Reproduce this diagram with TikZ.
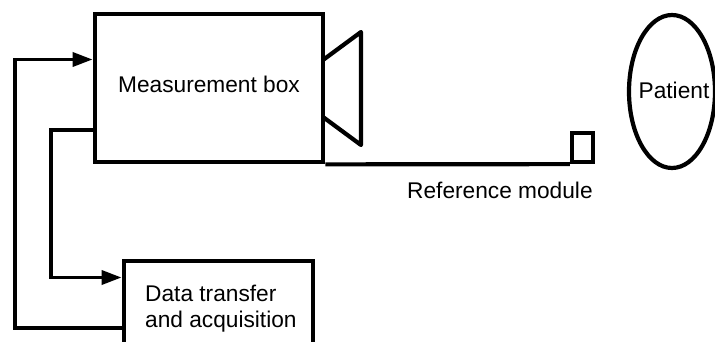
\documentclass[tikz,border=0pt]{standalone}
\usepackage{fontspec}
\setmainfont{Liberation Sans}
\usetikzlibrary{arrows.meta,shapes.geometric}
\begin{document}
\begin{tikzpicture}[x=1pt,y=-1pt,
  every node/.style={font=\fontsize{22.7}{25.5}\selectfont, inner sep=0pt},
  boxshape/.style={draw, line width=4.8pt, rectangle},
  conn/.style={line width=3.6pt, -{Triangle[length=20pt,width=14pt]}},
  thick4/.style={line width=4.2pt}]
\clip (0,0) rectangle (715,342);
% measurement box
\node[boxshape, minimum width=228pt, minimum height=148pt] (mbox) at (209,88) {};
\node[anchor=base] (mtext) at (209,93) {Measurement box};
% horn
\draw[thick4, line join=round] (323,60) -- (361,32) -- (361,145) -- (323,117);
% data box
\node[boxshape, minimum width=189pt, minimum height=101pt] (dbox) at (218.5,311.5) {};
\node[anchor=base west, align=left] (dtext) at (145,327) {Data transfer\\and acquisition};
% reference module
\node[draw, thick4, rectangle, minimum width=21pt, minimum height=29pt] (refmod) at (582.5,147.5) {};
\draw[thick4] (mbox.south east) -- (refmod.south west);
\node[anchor=base west] (reflabel) at (407,198) {Reference module};
% patient
\node[draw, thick4, ellipse, minimum width=86pt, minimum height=153pt] (patient) at (672,91.5) {};
\node (ptext) at (674,90) {Patient};
% connectors
\coordinate (c1) at (15,328);
\coordinate (c2) at (15,59.5);
\coordinate (c3) at (51,130);
\coordinate (c4) at (51,277.5);
\draw[conn] (dbox.west |- c1) -- (c1) -- (c2) -- (mbox.west |- c2);
\draw[conn] (mbox.west |- c3) -- (c3) -- (c4) -- (dbox.west |- c4);
\end{tikzpicture}
\end{document}
